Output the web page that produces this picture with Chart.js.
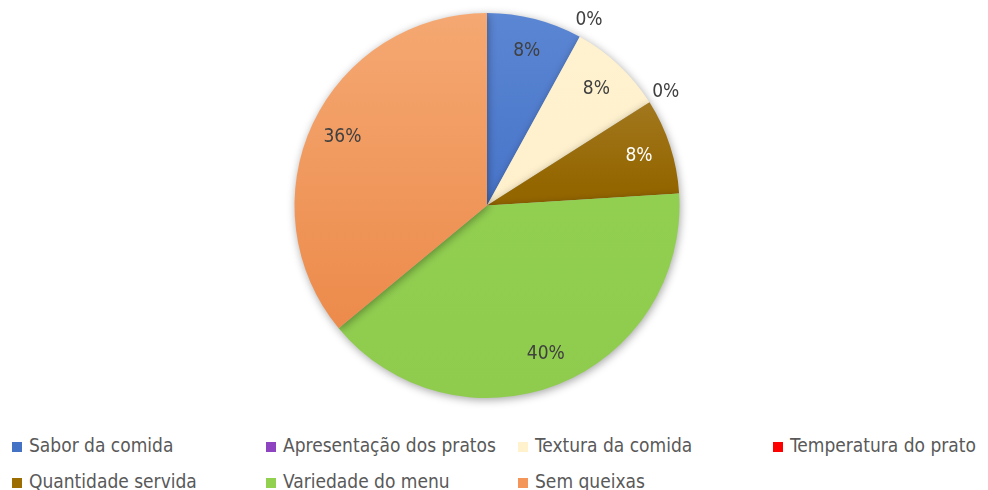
<!DOCTYPE html>
<html>
<head>
<meta charset="utf-8">
<script src="https://cdn.jsdelivr.net/npm/chart.js@4"></script>
<style>
  body { margin: 0; background: #fff; width: 988px; height: 490px; overflow: hidden; position: relative; }
  #wrap { position: absolute; left: 0; top: 0; width: 988px; height: 410px; }
  #legend { position: absolute; left: 0; top: 430px; width: 988px; font-family: "Liberation Sans Narrow", "DejaVu Sans Condensed", "Liberation Sans", sans-serif; font-size: 19px; color: #595959; }
  .item { position: absolute; white-space: nowrap; line-height: 20px; }
  .box { display: inline-block; width: 10px; height: 10px; margin-right: 7px; vertical-align: 0px; }
</style>
</head>
<body>
<div id="wrap"><canvas id="pie"></canvas></div>
<div id="legend"></div>
<script>
const categories = ["Sabor da comida", "Apresentação dos pratos", "Textura da comida", "Temperatura do prato", "Quantidade servida", "Variedade do menu", "Sem queixas"];
const counts = [2, 0, 2, 0, 2, 10, 9];
const topColors = ["#5B86D3", "#8A42C4", "#FFF2D0", "#FF0000", "#B08A3E", "#94D253", "#F5A872"];
const bottomColors = ["#3563C0", "#7A35B0", "#FFEFC8", "#FF0000", "#946600", "#8FCC4E", "#EA8442"];
const legendColors = ["#4472C4", "#8E44C0", "#FFF2CC", "#FF0000", "#9C6D00", "#92D050", "#F4955A"];
const labelColors = ["#404040", "#404040", "#404040", "#404040", "#FFFFFF", "#404040", "#404040"];

const total = counts.reduce((a, b) => a + b, 0);

function sliceFill(ctx) {
  const chart = ctx.chart;
  const area = chart.chartArea;
  if (!area) return bottomColors[ctx.dataIndex];
  const g = chart.ctx.createLinearGradient(0, area.top, 0, area.bottom);
  g.addColorStop(0, topColors[ctx.dataIndex]);
  g.addColorStop(0.45, bottomColors[ctx.dataIndex]);
  g.addColorStop(1, bottomColors[ctx.dataIndex]);
  return g;
}

function sliceFillSoft(ctx) {
  // orange / blue slices shade over the whole height
  const i = ctx.dataIndex;
  if (i !== 4) {
    const chart = ctx.chart;
    const area = chart.chartArea;
    if (!area) return bottomColors[i];
    const g = chart.ctx.createLinearGradient(0, area.top, 0, area.bottom);
    g.addColorStop(0, topColors[i]);
    g.addColorStop(1, bottomColors[i]);
    return g;
  }
  return sliceFill(ctx);
}

const shadowPlugin = {
  id: "shadow",
  beforeDatasetsDraw(chart) {
    const c = chart.ctx;
    c.save();
    c.shadowColor = "rgba(0,0,0,0.35)";
    c.shadowBlur = 8;
    c.shadowOffsetX = 1;
    c.shadowOffsetY = 2;
  },
  afterDatasetsDraw(chart) {
    chart.ctx.restore();
  }
};

const labelPlugin = {
  id: "pctLabels",
  afterDatasetsDraw(chart) {
    const c = chart.ctx;
    const meta = chart.getDatasetMeta(0);
    c.save();
    c.font = '19px "Liberation Sans Narrow", "DejaVu Sans Condensed", "Liberation Sans", sans-serif';
    c.textAlign = "center";
    c.textBaseline = "middle";
    meta.data.forEach((arc, i) => {
      const p = arc.getProps(["x", "y", "startAngle", "endAngle", "outerRadius"], true);
      const mid = (p.startAngle + p.endAngle) / 2;
      const pct = Math.round(counts[i] / total * 100);
      const r = counts[i] === 0 ? p.outerRadius * 1.1 : p.outerRadius * 0.83;
      c.fillStyle = labelColors[i];
      c.fillText(pct + "%", p.x + Math.cos(mid) * r, p.y + Math.sin(mid) * r);
    });
    c.restore();
  }
};

new Chart(document.getElementById("pie"), {
  type: "pie",
  data: {
    labels: categories,
    datasets: [{
      data: counts,
      backgroundColor: sliceFillSoft,
      borderWidth: 0
    }]
  },
  options: {
    responsive: true,
    maintainAspectRatio: false,
    animation: false,
    layout: { padding: { top: 13, bottom: 12, left: 0, right: 14 } },
    plugins: {
      legend: { display: false },
      tooltip: { enabled: false }
    }
  },
  plugins: [shadowPlugin, labelPlugin]
});

// legend laid out in four columns, two rows
const colX = [12, 266, 518, 773];
const rowY = [5, 41];
const legend = document.getElementById("legend");
categories.forEach((name, i) => {
  const el = document.createElement("div");
  el.className = "item";
  el.style.left = colX[i % 4] + "px";
  el.style.top = rowY[Math.floor(i / 4)] + "px";
  el.innerHTML = '<span class="box" style="background:' + legendColors[i] + '"></span>' + name;
  legend.appendChild(el);
});
</script>
</body>
</html>
